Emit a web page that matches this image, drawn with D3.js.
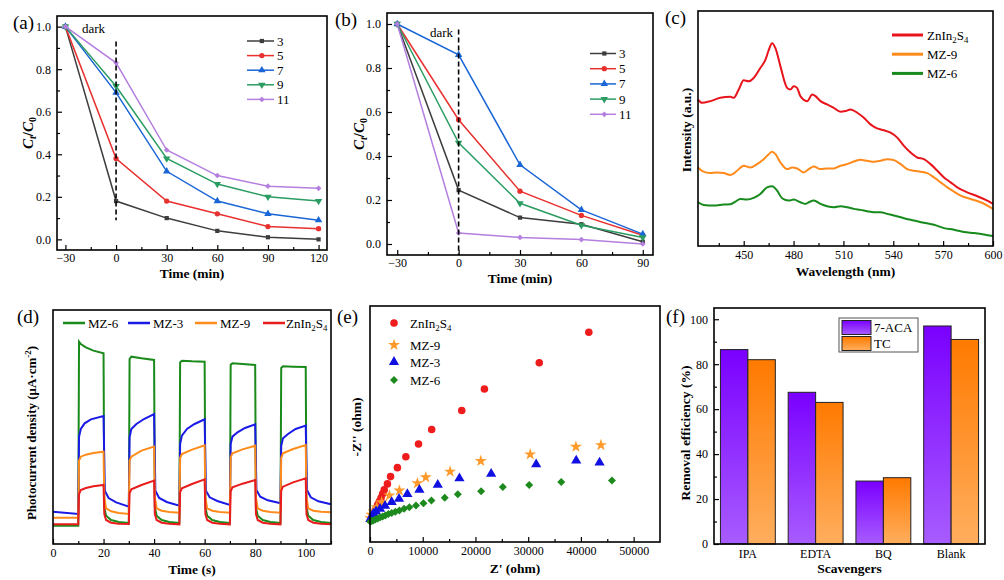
<!DOCTYPE html>
<html><head><meta charset="utf-8">
<script src="https://cdn.jsdelivr.net/npm/d3@7"></script>
<style>body{margin:0;background:#fff}text{font-family:"Liberation Serif","Times New Roman",serif}</style>
</head><body>
<script>
// ---------- DATA ----------
// (a) Ct/C0 vs time at different pH
const timeA = [-30, 0, 30, 60, 90, 120];
const a_pH3  = [1.0, 0.18, 0.10, 0.04, 0.01, 0.00];
const a_pH5  = [1.0, 0.38, 0.18, 0.12, 0.06, 0.05];
const a_pH7  = [1.0, 0.69, 0.32, 0.18, 0.12, 0.09];
const a_pH9  = [1.0, 0.72, 0.38, 0.26, 0.20, 0.18];
const a_pH11 = [1.0, 0.83, 0.42, 0.30, 0.25, 0.24];
// (b)
const timeB = [-30, 0, 30, 60, 90];
const b_pH3  = [1.0, 0.245, 0.12, 0.09, 0.01];
const b_pH5  = [1.0, 0.565, 0.24, 0.13, 0.04];
const b_pH7  = [1.0, 0.86, 0.36, 0.155, 0.045];
const b_pH9  = [1.0, 0.46, 0.185, 0.085, 0.03];
const b_pH11 = [1.0, 0.05, 0.03, 0.02, 0.0];
const pHLabels = ["3", "5", "7", "9", "11"];

// (c) PL spectra [wavelength nm, intensity a.u.]
const plZIS = [[422.5,442],[424.9,432],[429.9,437],[435.9,447],[442,450],[444,447],[447,472],[450,500],[453,497],[456,507],[460,537],[463.1,562],[465.1,592],[467.1,612],[469.1,597],[472.1,542],[476.1,477],[478.1,472],[480.1,482],[482.1,477],[484.1,452],[488.2,437],[491.2,457],[493.2,452],[496.2,437],[500.2,427],[504.2,417],[508.2,405],[511.2,407],[514.3,412],[518.3,402],[522.3,387],[526.3,367],[529.3,357],[534.3,349],[538.4,342],[542.4,327],[546.4,302],[550.4,282],[554.4,267],[558.4,262],[562.4,247],[566.5,227],[570.5,207],[574.5,192],[578.5,177],[584.5,162],[590.6,150],[595.6,139],[600,127]];
const plMZ9 = [[422.5,237],[424.9,227],[429.9,220],[433.9,222],[438,220],[442,214],[446,227],[450,242],[454,237],[458,247],[462,262],[465.1,277],[467.1,284],[469.1,277],[472.1,252],[476.1,232],[479.1,237],[482.1,234],[486.1,222],[489.2,232],[492.2,240],[496.2,232],[500.2,234],[504.2,234],[508.2,242],[512.2,247],[516.3,255],[520.3,260],[524.3,257],[528.3,254],[532.3,257],[536.3,262],[540.4,259],[544.4,247],[548.4,232],[552.4,227],[556.4,224],[560.4,220],[564.5,207],[568.5,192],[572.5,177],[576.5,164],[580.5,152],[586.5,142],[592.6,132],[600,112]];
const plMZ6 = [[422.5,132],[425.9,124],[431.9,122],[438,125],[442,126],[445,134],[448,142],[452,140],[456,145],[460,157],[464.1,177],[467.1,180],[470.1,167],[473.1,144],[477.1,137],[480.1,140],[484.1,132],[487.1,127],[489.2,132],[492.2,137],[496.2,127],[500.2,120],[504.2,117],[508.2,120],[512.2,117],[516.3,112],[520.3,109],[524.3,105],[528.3,102],[532.3,102],[536.3,97],[540.4,92],[546.4,84],[552.4,77],[558.4,70],[564.5,64],[570.5,54],[576.5,49],[582.5,42],[588.6,39],[594.6,35],[600,30]];

// (d) transient photocurrent [time s, current a.u.]
const pcMZ6 = [[0,55],[10,55],[10.3,607],[11,600],[13,590],[16,580],[20,572],[20.3,110],[21,85],[23,72],[26,66],[30,63],[30.3,555],[31,562],[35,557],[40,552],[40.3,110],[41,85],[43,72],[46,66],[50,63],[50.3,545],[51,550],[55,548],[60,547],[60.3,110],[61,85],[63,72],[66,66],[70,63],[70.3,538],[71,542],[75,540],[80,537],[80.3,110],[81,85],[83,72],[86,66],[90,63],[90.3,528],[91,533],[95,532],[100,531],[100.3,110],[101,85],[103,72],[106,66],[110,63]];
const pcMZ3 = [[0,97],[10,90],[10.3,322],[11,345],[12.5,362],[15,374],[20,384],[20.5,160],[22,138],[25,125],[30,112],[30.3,320],[31,345],[33,360],[36,375],[40,390],[40.5,160],[42,138],[45,126],[50,115],[50.3,300],[51,325],[53,345],[56,360],[60,374],[60.5,160],[62,140],[65,129],[70,117],[70.3,300],[71,322],[73,335],[76,348],[80,359],[80.5,162],[82,142],[85,131],[90,122],[90.3,295],[91,317],[93,330],[96,345],[100,355],[100.5,162],[102,140],[105,128],[110,119]];
const pcMZ9 = [[0,79],[10,79],[10.3,250],[11,262],[13,268],[16,273],[20,277],[20.3,140],[21,107],[23,98],[26,93],[30,90],[30.3,250],[31,262],[35,280],[40,292],[40.3,140],[41,107],[43,100],[46,96],[50,94],[50.3,258],[51,270],[55,283],[60,296],[60.3,140],[61,107],[63,100],[66,96],[70,94],[70.3,260],[71,272],[75,284],[80,295],[80.3,140],[81,107],[83,100],[86,96],[90,94],[90.3,258],[91,272],[95,285],[100,297],[100.3,140],[101,107],[103,100],[106,97],[110,95]];
const pcZIS = [[0,59],[10,59],[10.3,150],[11,162],[13,168],[16,173],[20,177],[20.3,90],[21,72],[23,64],[26,61],[30,60],[30.3,152],[31,164],[35,177],[40,190],[40.3,90],[41,72],[43,64],[46,61],[50,59],[50.3,155],[51,167],[55,180],[60,194],[60.3,90],[61,72],[63,64],[66,61],[70,59],[70.3,158],[71,170],[75,181],[80,192],[80.3,90],[81,72],[83,64],[86,61],[90,59],[90.3,160],[91,172],[95,185],[100,197],[100.3,90],[101,72],[103,64],[106,61],[110,59]];

// (e) Nyquist plots [Z', -Z'']
const eisZIS = [[41500,40000],[32100,34180],[21700,29180],[17400,25070],[11700,21460],[9200,18670],[6800,16270],[5200,14180],[3900,12470],[3300,11080],[2700,9940],[2400,9180],[2100,8420],[1770,7720],[1460,7090],[1200,6460],[950,5950],[700,5380],[510,5000],[320,4560],[130,4240]];
const eisMZ9 = [[43800,18480],[39050,18170],[30380,16710],[21010,15450],[15190,13420],[10570,12340],[8990,11200],[5570,9810],[3670,8860],[2220,7600],[1270,6650],[630,5820],[250,5190],[60,4560]];
const eisMZ3 = [[43540,15130],[39110,15510],[31520,14810],[22980,12980],[16960,12150],[12850,10890],[9370,9940],[7090,9120],[5510,8230],[4110,7600],[2850,6900],[1900,6330],[1140,5820],[630,5380],[320,4870],[60,4370]];
const eisMZ6 = [[45890,11710],[36270,11460],[30190,10890],[25190,10510],[21080,9690],[16650,9120],[14180,8420],[11650,7910],[10130,7410],[8730,6960],[7470,6650],[6460,6330],[5570,6010],[4810,5760],[4110,5510],[3480,5320],[2910,5060],[2410,4870],[1900,4680],[1460,4490],[1010,4300],[630,4120],[320,3990],[60,3860]];

// (f) scavenger experiment
const scavengers = ["IPA", "EDTA", "BQ", "Blank"];
const remACA = [86.5, 67.5, 28, 97];
const remTC  = [82, 63, 29.5, 91];

// ---------- DRAW ----------
const svg = d3.select("body").append("svg").attr("width",1004).attr("height",580);
svg.append("rect").attr("width",1004).attr("height",580).attr("fill","#fff");
const FONT = '"Liberation Serif","Times New Roman",serif';
const defs = svg.append("defs");

function frame(x0,x1,y0,y1){
  svg.append("rect").attr("x",x0).attr("y",y0).attr("width",x1-x0).attr("height",y1-y0)
    .attr("fill","none").attr("stroke","#000").attr("stroke-width",1.6);
}
function styleAxis(g){
  g.select(".domain").remove();
  g.selectAll("text").attr("font-family",FONT).attr("font-size",12).attr("fill","#000");
  g.selectAll("line").attr("stroke","#000").attr("stroke-width",1.2);
}
function xAxis(scale,y,major,minor,fmt,pad){
  svg.append("g").attr("transform",`translate(0,${y})`)
    .call(d3.axisBottom(scale).tickValues(major).tickSize(-5).tickPadding(pad==null?5:pad).tickFormat(fmt)).call(styleAxis);
  if(minor) svg.append("g").attr("transform",`translate(0,${y})`)
    .call(d3.axisBottom(scale).tickValues(minor).tickSize(-3).tickFormat("")).call(styleAxis);
}
function yAxis(scale,x,major,minor,fmt){
  svg.append("g").attr("transform",`translate(${x},0)`)
    .call(d3.axisLeft(scale).tickValues(major).tickSize(-5).tickPadding(6).tickFormat(fmt)).call(styleAxis);
  if(minor) svg.append("g").attr("transform",`translate(${x},0)`)
    .call(d3.axisLeft(scale).tickValues(minor).tickSize(-3).tickFormat("")).call(styleAxis);
}
function label(x,y,txt,opts={}){
  const t = svg.append("text").attr("x",x).attr("y",y).attr("font-family",FONT)
    .attr("font-size",opts.size||13.5).attr("font-weight",opts.bold===false?"normal":"bold")
    .attr("text-anchor",opts.anchor||"middle").attr("fill","#000").text(txt);
  if(opts.rotate) t.attr("transform",`rotate(-90,${x},${y})`);
  return t;
}
function panelLabel(x,y,txt){
  svg.append("text").attr("x",x).attr("y",y).attr("font-family",FONT).attr("font-size",19).attr("fill","#000").text(txt);
}
function znText(x,y,size,anchor){
  const t = svg.append("text").attr("x",x).attr("y",y).attr("font-family",FONT).attr("font-size",size).attr("fill","#000");
  if(anchor) t.attr("text-anchor",anchor);
  t.append("tspan").text("ZnIn");
  t.append("tspan").attr("font-size",size*0.68).attr("dy",3).text("2");
  t.append("tspan").attr("dy",-3).text("S");
  t.append("tspan").attr("font-size",size*0.68).attr("dy",3).text("4");
  return t;
}
function marker(g,type,x,y,size,color,rot){
  g.append("path").attr("d",d3.symbol(type,size)())
    .attr("transform",`translate(${x},${y}) rotate(${rot||0})`).attr("fill",color);
}

const pHColors = ["#3d3d3d","#e8302f","#1a66d6","#2b9c62","#b47fdf"];
const pHSym = [[d3.symbolSquare,0,18],[d3.symbolCircle,0,22],[d3.symbolTriangle,0,24],[d3.symbolTriangle,180,24],[d3.symbolSquare,45,16]];

function kineticsPanel(cfg){
  const x = d3.scaleLinear().domain(cfg.xd).range([cfg.x0,cfg.x1]);
  const y = d3.scaleLinear().domain([-0.05,1.05]).range([cfg.y1,cfg.y0]);
  const line = d3.line().x(d=>x(d[0])).y(d=>y(d[1]));
  cfg.series.forEach((vals,i)=>{
    const pts = cfg.time.map((t,j)=>[t,vals[j]]);
    svg.append("path").attr("d",line(pts)).attr("fill","none").attr("stroke",pHColors[i]).attr("stroke-width",1.5);
    const g = svg.append("g");
    pts.forEach(p=>marker(g,pHSym[i][0],x(p[0]),y(p[1]),pHSym[i][2],pHColors[i],pHSym[i][1]));
  });
  svg.append("line").attr("x1",x(0)).attr("x2",x(0)).attr("y1",y(cfg.dash[0])).attr("y2",y(cfg.dash[1]))
    .attr("stroke","#000").attr("stroke-width",1.6).attr("stroke-dasharray","5,3");
  svg.append("text").attr("x",cfg.dark[0]).attr("y",cfg.dark[1]).attr("font-family",FONT).attr("font-size",13).text("dark");
  // legend
  pHLabels.forEach((lab,i)=>{
    const ly = cfg.leg[1]+i*cfg.leg[3];
    svg.append("line").attr("x1",cfg.leg[0]).attr("x2",cfg.leg[0]+cfg.leg[2]).attr("y1",ly).attr("y2",ly)
      .attr("stroke",pHColors[i]).attr("stroke-width",1.5);
    const g = svg.append("g");
    marker(g,pHSym[i][0],cfg.leg[0]+cfg.leg[2]*0.55,ly,pHSym[i][2],pHColors[i],pHSym[i][1]);
    svg.append("text").attr("x",cfg.leg[0]+cfg.leg[2]+3).attr("y",ly+4.5).attr("font-family",FONT).attr("font-size",13).text(lab);
  });
  frame(cfg.x0,cfg.x1,cfg.y0,cfg.y1);
  xAxis(x,cfg.y1,cfg.time,cfg.xminor,d3.format("d"),3);
  yAxis(y,cfg.x0,[0,0.2,0.4,0.6,0.8,1.0],[0.1,0.3,0.5,0.7,0.9],d3.format(".1f"));
  label((cfg.x0+cfg.x1)/2,cfg.titleY,"Time (min)");
  // C_t/C_0 label
  const t = svg.append("text").attr("transform",`translate(${cfg.ylab[0]},${cfg.ylab[1]}) rotate(-90)`)
    .attr("font-family",FONT).attr("font-size",15).attr("font-weight","bold").attr("font-style","italic").attr("text-anchor","middle");
  t.append("tspan").text("C");
  t.append("tspan").attr("font-size",10).attr("dy",3).text("t");
  t.append("tspan").attr("dy",-3).attr("font-style","normal").text("/");
  t.append("tspan").text("C");
  t.append("tspan").attr("font-size",10).attr("dy",3).attr("font-style","normal").text("0");
}

// (a)
kineticsPanel({x0:57,x1:327,y0:16,y1:250,xd:[-35,125],time:timeA,series:[a_pH3,a_pH5,a_pH7,a_pH9,a_pH11],
  xminor:[-15,15,45,75,105],dash:[0.93,0.09],dark:[82,33],leg:[247,41,27,14.6],ylab:[33,133],titleY:278});
panelLabel(13,29,"(a)");
// (b)
kineticsPanel({x0:387,x1:653,y0:13,y1:255,xd:[-35,95],time:timeB,series:[b_pH3,b_pH5,b_pH7,b_pH9,b_pH11],
  xminor:[-15,15,45,75],dash:[0.975,-0.05],dark:[430,37],leg:[590,53.5,26,15.2],ylab:[364,134],titleY:283});
panelLabel(335,26,"(b)");

// (c) PL
{
  const x0=698,x1=993,y0=11,y1=246;
  const x = d3.scaleLinear().domain([422.5,600]).range([x0,x1]);
  const y = d3.scaleLinear().domain([0,709]).range([y1,y0]);
  const line = d3.line().x(d=>x(d[0])).y(d=>y(d[1])).curve(d3.curveMonotoneX);
  const ser = [[plZIS,"#e8141b"],[plMZ9,"#ff8a1c"],[plMZ6,"#168a1c"]];
  ser.forEach(s=>svg.append("path").attr("d",line(s[0])).attr("fill","none").attr("stroke",s[1]).attr("stroke-width",2));
  const names = ["ZnIn2S4","MZ-9","MZ-6"];
  ser.forEach((s,i)=>{
    const ly = 35+i*19.2;
    svg.append("line").attr("x1",892).attr("x2",923).attr("y1",ly).attr("y2",ly).attr("stroke",s[1]).attr("stroke-width",3);
    if(i===0) znText(927,ly+4.5,13);
    else svg.append("text").attr("x",927).attr("y",ly+4.5).attr("font-family",FONT).attr("font-size",13).text(names[i]);
  });
  frame(x0,x1,y0,y1);
  xAxis(x,y1,[450,480,510,540,570,600],[435,465,495,525,555,585],d3.format("d"),4);
  label((x0+x1)/2,276,"Wavelength (nm)");
  label(691,130,"Intensity (a.u.)",{rotate:true});
  panelLabel(665,24,"(c)");
}

// (d) photocurrent
{
  const x0=53,x1=331,y0=310,y1=544;
  const x = d3.scaleLinear().domain([0,110]).range([x0,x1]);
  const y = d3.scaleLinear().domain([0,702]).range([y1,y0]);
  const line = d3.line().x(d=>x(d[0])).y(d=>y(d[1]));
  const ser = [[pcMZ6,"#1a8a1a","MZ-6"],[pcMZ3,"#1a1ae6","MZ-3"],[pcMZ9,"#ff8c1a","MZ-9"],[pcZIS,"#e81c1c","ZnIn2S4"]];
  ser.forEach(s=>svg.append("path").attr("d",line(s[0])).attr("fill","none").attr("stroke",s[1]).attr("stroke-width",2));
  const lx = [63,128,195,263];
  ser.forEach((s,i)=>{
    svg.append("line").attr("x1",lx[i]).attr("x2",lx[i]+22).attr("y1",323).attr("y2",323).attr("stroke",s[1]).attr("stroke-width",2.5);
    if(i===3) znText(lx[i]+23,327.5,13);
    else svg.append("text").attr("x",lx[i]+25).attr("y",327.5).attr("font-family",FONT).attr("font-size",13).text(s[2]);
  });
  frame(x0,x1,y0,y1);
  xAxis(x,y1,[0,20,40,60,80,100],[10,30,50,70,90,110],d3.format("d"),4);
  label((x0+x1)/2,574,"Time (s)");
  const t = svg.append("text").attr("transform","translate(36,433) rotate(-90)").attr("font-family",FONT)
    .attr("font-size",13).attr("font-weight","bold").attr("text-anchor","middle");
  t.append("tspan").text("Photocurrent density (μA·cm");
  t.append("tspan").attr("font-size",9).attr("dy",-5).text("-2");
  t.append("tspan").attr("dy",5).text(")");
  panelLabel(17,323,"(d)");
}

// (e) EIS
{
  const x0=370,x1=660,y0=306,y1=542;
  const x = d3.scaleLinear().domain([0,55000]).range([x0,x1]);
  const y = d3.scaleLinear().domain([0,45000]).range([y1,y0]);
  const ser = [[eisZIS,"#ee1c1c",d3.symbolCircle,0,45,"ZnIn2S4"],[eisMZ9,"#ff9a2a",d3.symbolStar,0,45,"MZ-9"],
               [eisMZ3,"#1010e0",d3.symbolTriangle,0,45,"MZ-3"],[eisMZ6,"#1e8a1e",d3.symbolSquare,45,32,"MZ-6"]];
  ser.forEach(s=>{
    const g = svg.append("g");
    s[0].forEach(p=>marker(g,s[2],x(p[0]),y(p[1]),s[4],s[1],s[3]));
  });
  const ly = [323,345,362,380];
  ser.forEach((s,i)=>{
    const g = svg.append("g");
    marker(g,s[2],394,ly[i],s[4],s[1],s[3]);
    if(i===0) znText(410,ly[i]+4.5,13);
    else svg.append("text").attr("x",410).attr("y",ly[i]+4.5).attr("font-family",FONT).attr("font-size",13).text(s[5]);
  });
  frame(x0,x1,y0,y1);
  xAxis(x,y1,[0,10000,20000,30000,40000,50000],[5000,15000,25000,35000,45000],d3.format("d"),4);
  label((x0+x1)/2,573,"Z' (ohm)");
  label(361,427,"-Z'' (ohm)",{rotate:true});
  panelLabel(337,323,"(e)");
}

// (f) scavengers
{
  const x0=714,x1=985,y0=308,y1=544;
  const x = d3.scaleBand().domain(scavengers).range([x0,x1]).paddingInner(0.19).paddingOuter(0.095);
  const xs = d3.scaleBand().domain(["ACA","TC"]).range([0,x.bandwidth()]);
  const y = d3.scaleLinear().domain([0,105]).range([y1,y0]);
  const mk = (id,top,bot)=>{
    const g = defs.append("linearGradient").attr("id",id).attr("x1",0).attr("y1",0).attr("x2",0).attr("y2",1);
    g.append("stop").attr("offset","0%").attr("stop-color",top);
    g.append("stop").attr("offset","100%").attr("stop-color",bot);
  };
  mk("gP","#7a00ff","#a85cff"); mk("gO","#ff7a00","#ffae5e");
  const ser = [[remACA,"ACA","url(#gP)"],[remTC,"TC","url(#gO)"]];
  ser.forEach(s=>{
    svg.append("g").selectAll("rect").data(scavengers).join("rect")
      .attr("x",(d)=>x(d)+xs(s[1])).attr("width",xs.bandwidth())
      .attr("y",(d,i)=>y(s[0][i])).attr("height",(d,i)=>y1-y(s[0][i]))
      .attr("fill",s[2]).attr("stroke","#222").attr("stroke-width",1);
  });
  // legend
  svg.append("rect").attr("x",839).attr("y",318).attr("width",79).attr("height",34).attr("fill","#fff").attr("stroke","#555").attr("stroke-width",1);
  svg.append("rect").attr("x",842).attr("y",320.5).attr("width",29).attr("height",14).attr("fill","url(#gP)").attr("stroke","#222");
  svg.append("rect").attr("x",842).attr("y",336.5).attr("width",29).attr("height",14).attr("fill","url(#gO)").attr("stroke","#222");
  svg.append("text").attr("x",874).attr("y",332).attr("font-family",FONT).attr("font-size",13).text("7-ACA");
  svg.append("text").attr("x",874).attr("y",348).attr("font-family",FONT).attr("font-size",13).text("TC");
  frame(x0,x1,y0,y1);
  svg.append("g").attr("transform",`translate(0,${y1})`)
    .call(d3.axisBottom(x).tickSize(0).tickPadding(5)).call(styleAxis);
  yAxis(y,x0,[0,20,40,60,80,100],[10,30,50,70,90],d3.format("d"));
  label((x0+x1)/2,573,"Scavengers");
  label(690,433,"Removal efficiency (%)",{rotate:true});
  panelLabel(666,323,"(f)");
}
</script>
</body></html>
